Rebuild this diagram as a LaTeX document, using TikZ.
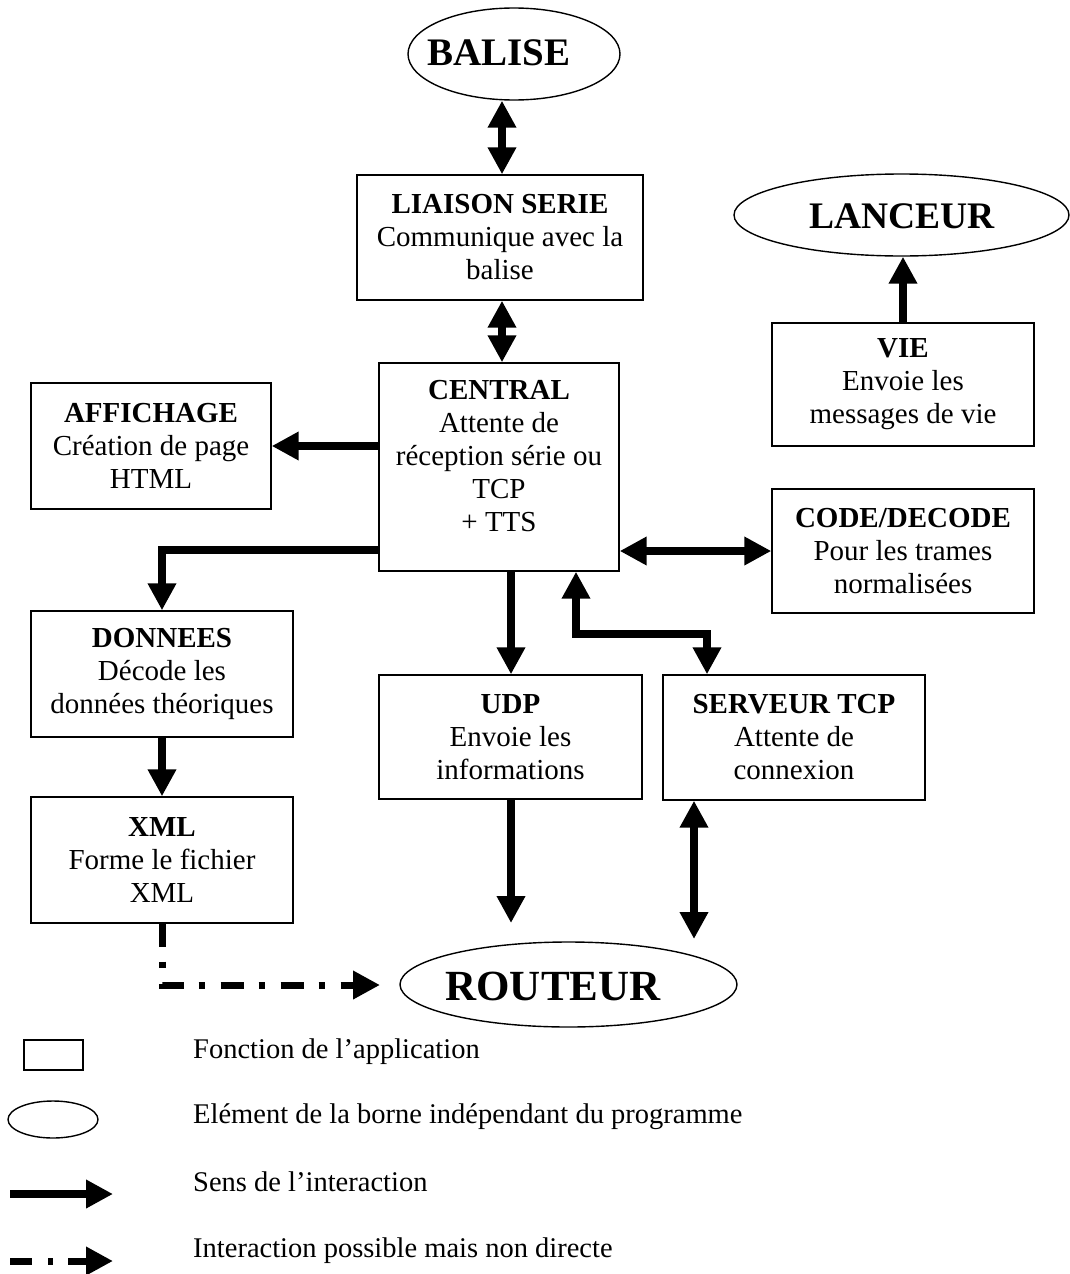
\documentclass[tikz,border=0pt]{standalone}
\usepackage{fontspec}
\setmainfont{Liberation Serif}
\usetikzlibrary{arrows.meta,shapes.geometric}
\newcommand\dgfont{\fontsize{29}{33}\selectfont}
\newcommand\dglegend{\fontsize{28.5}{33}\selectfont}
\tikzset{
  box/.style={draw, line width=1.4pt, inner sep=0pt, align=center, font=\dgfont},
  oval/.style={draw, ellipse, line width=1.4pt, inner sep=0pt},
  ttl/.style={inner sep=0pt},
  lgtext/.style={font=\dglegend, anchor=west, inner sep=0pt},
  tip/.tip={Triangle[length=27pt,width=27pt]},
  arr/.style={line width=7.3pt, -tip},
  darr/.style={line width=7.3pt, tip-tip},
  dd/.style={line width=7pt, -tip, dash pattern=on 23pt off 15pt on 6pt off 16pt}
}
\begin{document}
\begin{tikzpicture}[x=1pt,y=-1pt]
\useasboundingbox (0,0) rectangle (1070,1274);

% ellipses
\node[oval, minimum width=212, minimum height=92] (balise) at (514,54) {};
\node[ttl, font=\fontsize{39}{46}\selectfont\bfseries] (balisetxt) at (499,53) {BALISE};
\node[oval, minimum width=335, minimum height=82] (lanceur) at (901.5,215) {};
\node[ttl, font=\fontsize{37.5}{44}\selectfont\bfseries] (lanceurtxt) at (902,216) {LANCEUR};
\node[oval, minimum width=337, minimum height=85] (routeur) at (568.5,984.5) {};
\node[ttl, font=\fontsize{43}{50}\selectfont\bfseries] (routeurtxt) at (553,986) {ROUTEUR};

% boxes
\node[box, minimum width=286, minimum height=125] (liaison) at (500,237.5)
  {\textbf{LIAISON SERIE}\\Communique avec la\\balise};
\node[box, minimum width=240, minimum height=208] (central) at (499,467) {};
\node[font=\dgfont, align=center, inner sep=0pt] (centraltxt) at (499,456)
  {\textbf{CENTRAL}\\Attente de\\réception série ou\\TCP\\+ TTS};
\node[box, minimum width=262, minimum height=123] (vie) at (903,384.5)
  {\textbf{VIE}\\Envoie les\\messages de vie};
\node[box, minimum width=240, minimum height=126] (affichage) at (151,446)
  {\textbf{AFFICHAGE}\\Création de page\\HTML};
\node[box, minimum width=262, minimum height=124] (code) at (903,551)
  {\textbf{CODE/DECODE}\\Pour les trames\\normalisées};
\node[box, minimum width=262, minimum height=126] (donnees) at (162,674)
  {\textbf{DONNEES}\\Décode les\\données théoriques};
\node[box, minimum width=263, minimum height=124] (udp) at (510.5,737)
  {\textbf{UDP}\\Envoie les\\informations};
\node[box, minimum width=262, minimum height=125] (serveur) at (794,737.5)
  {\textbf{SERVEUR TCP}\\Attente de\\connexion};
\node[box, minimum width=262, minimum height=126] (xml) at (162,860)
  {\textbf{XML}\\Forme le fichier\\XML};

% helper coordinates
\coordinate (bx) at (502,0);
\coordinate (ux) at (511,0);
\coordinate (b1) at (162,550);
\coordinate (c1) at (576,634);
\coordinate (c2) at (707,634);
\coordinate (uend) at (511,923);
\coordinate (send) at (694,939);
\coordinate (sx) at (694,0);
\coordinate (d1) at (162,985);
\coordinate (d2) at (380,985);

% connectors
\draw[darr] (liaison.north -| bx) -- (balise.south -| bx);
\draw[darr] (liaison.south -| bx) -- (central.north -| bx);
\draw[arr] (vie.north) -- (vie.north |- lanceur.south);
\draw[arr] (affichage.east -| central.west) -- (affichage.east);
\draw[darr] (code.west -| central.east) -- (code.west);
\draw[arr] (central.west |- b1) -- (b1) -- (donnees.north);
\draw[arr] (central.south -| ux) -- (udp.north -| ux);
\draw[darr] (c1 |- central.south) -- (c1) -- (c2) -- (c2 |- serveur.north);
\draw[arr] (donnees.south) -- (xml.north);
\draw[arr] (udp.south -| uend) -- (uend);
\draw[darr] (serveur.south -| sx) -- (send);
\draw[dd] (xml.south) -- (d1) -- (d2);

% legend
\node[box, minimum width=59, minimum height=30] (lrect) at (53.5,1055) {};
\node[oval, minimum width=90, minimum height=37] (loval) at (53,1119.5) {};
\coordinate (la1) at (10,1194);
\coordinate (la2) at (113,1194);
\coordinate (ld1) at (10,1261);
\coordinate (ld2) at (113,1261);
\draw[arr] (la1) -- (la2);
\draw[dd, dash pattern=on 22pt off 16pt on 5pt off 15pt] (ld1) -- (ld2);
\node[lgtext] (lt1) at (193,1052) {Fonction de l’application};
\node[lgtext] (lt2) at (193,1117) {Elément de la borne indépendant du programme};
\node[lgtext] (lt3) at (193,1182) {Sens de l’interaction};
\node[lgtext] (lt4) at (193,1251) {Interaction possible mais non directe};
\end{tikzpicture}
\end{document}
